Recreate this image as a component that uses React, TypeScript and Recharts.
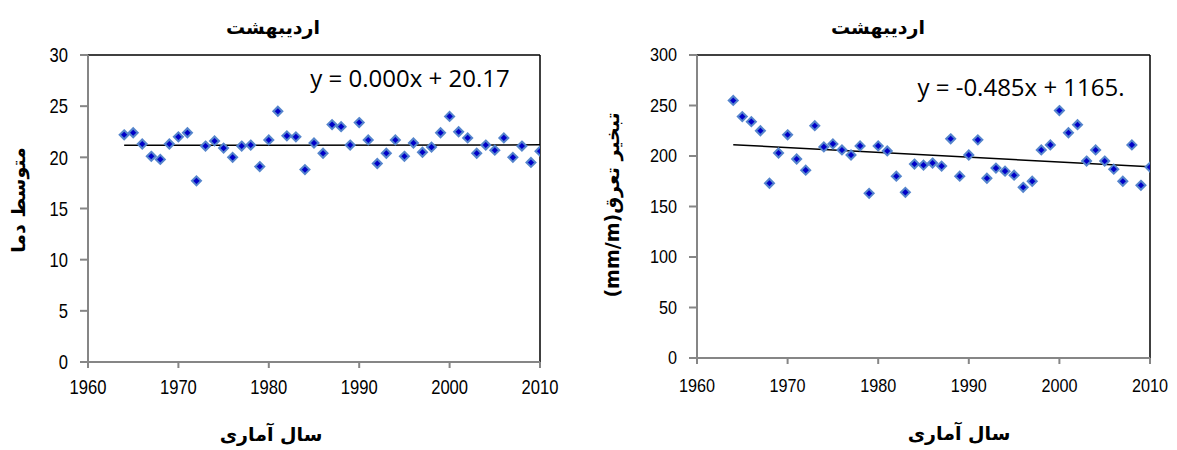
import React from 'react'
import { ComposedChart, Scatter, Line, XAxis, YAxis, ReferenceLine } from 'recharts'

// years of record
const years = [
  1964, 1965, 1966, 1967, 1968, 1969, 1970, 1971, 1972, 1973,
  1974, 1975, 1976, 1977, 1978, 1979, 1980, 1981, 1982, 1983,
  1984, 1985, 1986, 1987, 1988, 1989, 1990, 1991, 1992, 1993,
  1994, 1995, 1996, 1997, 1998, 1999, 2000, 2001, 2002, 2003,
  2004, 2005, 2006, 2007, 2008, 2009, 2010,
]

// mean temperature (left chart)
const tempValues = [
  22.2, 22.4, 21.3, 20.1, 19.8, 21.3, 22.0, 22.4, 17.7, 21.1,
  21.6, 20.9, 20.0, 21.1, 21.2, 19.1, 21.7, 24.5, 22.1, 22.0,
  18.8, 21.4, 20.4, 23.2, 23.0, 21.2, 23.4, 21.7, 19.4, 20.4,
  21.7, 20.1, 21.4, 20.5, 21.0, 22.4, 24.0, 22.5, 21.9, 20.4,
  21.2, 20.7, 21.9, 20.0, 21.1, 19.5, 20.6,
]

// evapotranspiration (right chart)
const evapValues = [
  255, 239, 234, 225, 173, 203, 221, 197, 186, 230,
  209, 212, 206, 201, 210, 163, 210, 205, 180, 164,
  192, 191, 193, 190, 217, 180, 201, 216, 178, 188,
  185, 181, 169, 175, 206, 211, 245, 223, 231, 195,
  206, 195, 187, 175, 211, 171, 189,
]

// trend line end points
const trendYears = [1964, 2010]
const tempTrend = [21.18, 21.22]
const evapTrend = [211.2, 189.4]

const xTicks = [1960, 1970, 1980, 1990, 2000, 2010]
const tempTicks = [0, 5, 10, 15, 20, 25, 30]
const evapTicks = [0, 50, 100, 150, 200, 250, 300]

const title = 'اردیبهشت'
const xLabel = 'سال آماری'
const tempLabel = 'متوسط دما'
const evapLabel = 'تبخیر تعرق(mm/m)'
const tempEquation = 'y = 0.000x + 20.17'
const evapEquation = 'y = -0.485x + 1165.'

const tempData = years.map((year, i) => ({ year, v: tempValues[i] }))
const evapData = years.map((year, i) => ({ year, v: evapValues[i] }))
const tempTrendData = trendYears.map((year, i) => ({ year, v: tempTrend[i] }))
const evapTrendData = trendYears.map((year, i) => ({ year, v: evapTrend[i] }))

const AXIS = '#868686'
const faFont = '"DejaVu Sans", sans-serif'

const Diamond = (props: any) => {
  const { cx, cy } = props
  if (cx == null || cy == null) return null
  const r = 4.5
  return (
    <polygon
      points={`${cx},${cy - r} ${cx + r},${cy} ${cx},${cy + r} ${cx - r},${cy}`}
      fill="#0000C8"
      stroke="#5585CC"
      strokeWidth={2}
    />
  )
}

// narrow-looking tick labels (squeezed Liberation Sans)
const makeTick = (size: number, squeeze: number, isX: boolean) => (props: any) => {
  const { x, y, payload, textAnchor } = props
  return (
    <text
      x={0}
      y={0}
      transform={`translate(${x},${y}) scale(${squeeze},1)`}
      textAnchor={textAnchor}
      dy={isX ? '0.71em' : '0.36em'}
      fontFamily='"Liberation Sans", Arial, sans-serif'
      fontSize={size}
      fill="#000"
    >
      {payload.value}
    </text>
  )
}

interface PanelProps {
  data: { year: number; v: number }[]
  trend: { year: number; v: number }[]
  yTicks: number[]
  yMax: number
  width: number
  margin: { top: number; right: number; bottom: number; left: number }
  xTickMargin: number
  fontSize: number
  squeeze: number
}

function Panel({ data, trend, yTicks, yMax, width, margin, xTickMargin, fontSize, squeeze }: PanelProps) {
  return (
    <ComposedChart width={width} height={450} margin={margin}>
      <XAxis
        dataKey="year"
        type="number"
        domain={[1960, 2010]}
        ticks={xTicks}
        height={40}
        stroke={AXIS}
        strokeWidth={2}
        tickSize={6}
        tickMargin={xTickMargin}
        tick={makeTick(fontSize, squeeze, true)}
        allowDataOverflow
      />
      <YAxis
        type="number"
        domain={[0, yMax]}
        ticks={yTicks}
        width={50}
        stroke={AXIS}
        strokeWidth={2}
        tickSize={8}
        tickMargin={12}
        tick={makeTick(fontSize, squeeze, false)}
        allowDataOverflow
      />
      <ReferenceLine y={yMax} stroke="#000" strokeWidth={1.5} />
      <ReferenceLine x={2010} stroke="#000" strokeWidth={1.5} />
      <Line
        data={trend}
        dataKey="v"
        stroke="#000"
        strokeWidth={1.5}
        dot={false}
        isAnimationActive={false}
      />
      <Scatter data={data} dataKey="v" shape={Diamond} isAnimationActive={false} />
    </ComposedChart>
  )
}

export default function App() {
  return (
    <div style={{ position: 'absolute', left: 0, top: 0, width: 1177, height: 450, background: '#fff' }}>
      <div style={{ position: 'absolute', left: 0, top: 0 }}>
        <Panel
          data={tempData}
          trend={tempTrendData}
          yTicks={tempTicks}
          yMax={30}
          width={590}
          margin={{ top: 55, right: 50, bottom: 48, left: 38 }}
          xTickMargin={12}
          fontSize={20}
          squeeze={0.83}
        />
      </div>
      <div style={{ position: 'absolute', left: 590, top: 0 }}>
        <Panel
          data={evapData}
          trend={evapTrendData}
          yTicks={evapTicks}
          yMax={300}
          width={587}
          margin={{ top: 55, right: 27, bottom: 52, left: 57 }}
          xTickMargin={15}
          fontSize={18}
          squeeze={0.9}
        />
      </div>
      <svg
        width={1177}
        height={450}
        style={{ position: 'absolute', left: 0, top: 0, pointerEvents: 'none' }}
      >
        <g fontFamily={faFont} fontWeight="bold" fontSize={19} fill="#000">
          <text x={273} y={34} textAnchor="middle">{title}</text>
          <text x={878} y={34} textAnchor="middle">{title}</text>
          <text x={271} y={441} textAnchor="middle">{xLabel}</text>
          <text x={959} y={440} textAnchor="middle">{xLabel}</text>
          <text x={25} y={200} textAnchor="middle" transform="rotate(-90 25 200)">{tempLabel}</text>
          <text
            x={619}
            y={205}
            textAnchor="middle"
            direction="rtl"
            transform="rotate(-90 619 205)"
          >
            {evapLabel}
          </text>
        </g>
        <g fontFamily='"Open Sans", sans-serif' fontSize={24} fill="#000">
          <text x={410} y={87} textAnchor="middle">{tempEquation}</text>
          <text x={1021} y={96} textAnchor="middle">{evapEquation}</text>
        </g>
      </svg>
    </div>
  )
}
